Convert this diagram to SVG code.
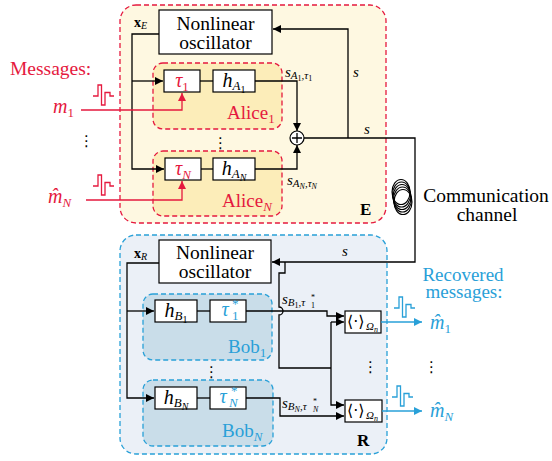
<svg xmlns="http://www.w3.org/2000/svg" width="552" height="461" viewBox="0 0 552 461">
<style>
text{font-family:"Liberation Serif","DejaVu Serif",serif;fill:#000}
.i{font-style:italic}
.b{font-weight:bold}
.red{fill:#e5193e}
.blue{fill:#29a0d8}
.box{fill:#fff;stroke:#000;stroke-width:1.2}
.ln{fill:none;stroke:#000;stroke-width:1.3}
.lr{fill:none;stroke:#e5193e;stroke-width:1.3}
.lb{fill:none;stroke:#29a0d8;stroke-width:1.3}
.dr{stroke:#e5193e;stroke-width:1.3;stroke-dasharray:5 3}
.db{stroke:#29a0d8;stroke-width:1.3;stroke-dasharray:5 3}
.a{marker-end:url(#ah)}
.ar{marker-end:url(#ahr)}
.ab{marker-end:url(#ahb)}
.dots{font-family:"DejaVu Sans",sans-serif;font-size:15px}
.coil{fill:none;stroke:#000;stroke-width:1.1}
.br{font-family:"DejaVu Sans",sans-serif;font-size:16px}
</style>
<defs>
<marker id="ah" viewBox="0 0 10 10" refX="10" refY="5" markerWidth="9" markerHeight="8" markerUnits="userSpaceOnUse" orient="auto"><path d="M0,0 L10,5 L0,10 z" fill="#000"/></marker>
<marker id="ahr" viewBox="0 0 10 10" refX="10" refY="5" markerWidth="9" markerHeight="8" markerUnits="userSpaceOnUse" orient="auto"><path d="M0,0 L10,5 L0,10 z" fill="#e5193e"/></marker>
<marker id="ahb" viewBox="0 0 10 10" refX="10" refY="5" markerWidth="9" markerHeight="8" markerUnits="userSpaceOnUse" orient="auto"><path d="M0,0 L10,5 L0,10 z" fill="#29a0d8"/></marker>
<path id="pulse" d="M0,11 H5 V0 H8.5 V20 H12 V7.5 H17 V11 H21" fill="none" stroke-width="1.3"/>
</defs>

<g id="emitter">
<rect x="120" y="5" width="266" height="218" rx="16" fill="#fef8e1" class="dr"/>
<text x="360" y="215" class="b" font-size="17">E</text>
</g>
<g id="receiver">
<rect x="120" y="235" width="267" height="219" rx="16" fill="#ebf0f7" class="db"/>
<text x="357" y="446" class="b" font-size="17">R</text>
</g>

<g id="alice1">
<rect x="153" y="63" width="129" height="66" rx="10" fill="#fcedb9" class="dr"/>
<text x="227" y="119" class="red" font-size="19">Alice<tspan font-size="13" dy="4">1</tspan></text>
</g>
<g id="aliceN">
<rect x="153" y="151" width="129" height="65" rx="10" fill="#fcedb9" class="dr"/>
<text x="222" y="207" class="red" font-size="19">Alice<tspan class="i" font-size="13" dy="4">N</tspan></text>
</g>
<g id="bob1">
<rect x="143" y="294" width="129" height="66" rx="10" fill="#c9dde9" class="db"/>
<text x="228" y="353" class="blue" font-size="19">Bob<tspan font-size="13" dy="4">1</tspan></text>
</g>
<g id="bobN">
<rect x="143" y="380" width="130" height="66" rx="10" fill="#c9dde9" class="db"/>
<text x="222" y="437" class="blue" font-size="19">Bob<tspan class="i" font-size="13" dy="4">N</tspan></text>
</g>

<g id="oscE">
<rect x="159" y="10" width="113" height="44" class="box"/>
<text x="215.5" y="30" font-size="19.5" text-anchor="middle">Nonlinear</text>
<text x="215.5" y="49" font-size="19.5" text-anchor="middle">oscillator</text>
</g>
<g id="oscR">
<rect x="159" y="240" width="112" height="43" class="box"/>
<text x="215" y="259" font-size="19.5" text-anchor="middle">Nonlinear</text>
<text x="215" y="278" font-size="19.5" text-anchor="middle">oscillator</text>
</g>

<g id="tau1">
<rect x="164" y="70" width="36" height="22" class="box"/>
<text x="182" y="87" class="i red" font-size="20" text-anchor="middle">τ<tspan font-size="13" font-style="normal" dy="4">1</tspan></text>
</g>
<g id="hA1">
<rect x="213" y="70" width="42" height="22" class="box"/>
<text x="234" y="87" class="i" font-size="20" text-anchor="middle">h<tspan font-size="13" dy="3">A</tspan><tspan font-size="10" font-style="normal" dy="3">1</tspan></text>
</g>
<g id="tauN">
<rect x="165" y="158" width="36" height="22" class="box"/>
<text x="183" y="175" class="i red" font-size="20" text-anchor="middle">τ<tspan font-size="13" dy="4">N</tspan></text>
</g>
<g id="hAN">
<rect x="213" y="158" width="42" height="22" class="box"/>
<text x="234" y="175" class="i" font-size="20" text-anchor="middle">h<tspan font-size="13" dy="3">A</tspan><tspan font-size="10" dy="3">N</tspan></text>
</g>
<g id="sum">
<circle cx="297" cy="138" r="7" fill="#fff" stroke="#000" stroke-width="1.2"/>
<path d="M292,138 H302 M297,133 V143" class="ln"/>
</g>

<g id="hB1">
<rect x="155" y="300" width="42" height="22" class="box"/>
<text x="176" y="317" class="i" font-size="20" text-anchor="middle">h<tspan font-size="13" dy="3">B</tspan><tspan font-size="10" font-style="normal" dy="3">1</tspan></text>
</g>
<g id="tau1s">
<rect x="210" y="300" width="36" height="22" class="box"/>
<text x="225" y="316" class="i blue" font-size="20" text-anchor="middle">τ</text>
<text x="232" y="308" class="blue" font-size="13">*</text>
<text x="232" y="320" class="blue" font-size="13">1</text>
</g>
<g id="hBN">
<rect x="155" y="387" width="42" height="22" class="box"/>
<text x="176" y="404" class="i" font-size="20" text-anchor="middle">h<tspan font-size="13" dy="3">B</tspan><tspan font-size="10" dy="3">N</tspan></text>
</g>
<g id="tauNs">
<rect x="210" y="387" width="36" height="22" class="box"/>
<text x="223" y="403" class="i blue" font-size="20" text-anchor="middle">τ</text>
<text x="231" y="395" class="blue" font-size="13">*</text>
<text x="229" y="407" class="i blue" font-size="13">N</text>
</g>
<g id="avg1">
<rect x="345" y="311" width="36" height="22" class="box"/>
<text x="347" y="327" class="br">⟨·⟩</text>
<text x="366" y="330" class="i" font-size="11">Ω<tspan font-size="8" dy="2">n</tspan></text>
</g>
<g id="avgN">
<rect x="345" y="400" width="37" height="22" class="box"/>
<text x="347" y="416" class="br">⟨·⟩</text>
<text x="366" y="419" class="i" font-size="11">Ω<tspan font-size="8" dy="2">n</tspan></text>
</g>

<g id="channel">
<ellipse cx="401" cy="192" rx="9" ry="12.5" class="coil"/>
<ellipse cx="401.5" cy="194.5" rx="9" ry="12.5" class="coil"/>
<ellipse cx="402" cy="197" rx="9" ry="12.5" class="coil"/>
<ellipse cx="402.5" cy="199.5" rx="9" ry="12.5" class="coil"/>
<ellipse cx="403" cy="202" rx="9" ry="12.5" class="coil"/>
<text x="486" y="202" font-size="19.5" text-anchor="middle">Communication</text>
<text x="487" y="221" font-size="19.5" text-anchor="middle">channel</text>
</g>

<g id="messages">
<text x="10" y="75" class="red" font-size="19.5">Messages:</text>
<text x="53" y="113" class="i red" font-size="20">m<tspan font-size="13" font-style="normal" dy="4">1</tspan></text>
<text x="48" y="203" class="i red" font-size="20">m̂<tspan font-size="13" dy="4">N</tspan></text>
<use href="#pulse" x="93" y="85" stroke="#e5193e"/>
<use href="#pulse" x="93" y="175" stroke="#e5193e"/>
<text x="79" y="146" class="dots">⋮</text>
<text x="213" y="148" class="dots">⋮</text>
</g>

<g id="recovered">
<text x="463" y="281" class="blue" font-size="19" text-anchor="middle">Recovered</text>
<text x="464" y="298" class="blue" font-size="19" text-anchor="middle">messages:</text>
<text x="430" y="329" class="i blue" font-size="20">m̂<tspan font-size="13" font-style="normal" dy="4">1</tspan></text>
<text x="430" y="417" class="i blue" font-size="20">m̂<tspan font-size="13" dy="4">N</tspan></text>
<use href="#pulse" x="394" y="297" stroke="#29a0d8"/>
<use href="#pulse" x="392" y="386" stroke="#29a0d8"/>
<text x="363" y="372" class="dots">⋮</text>
<text x="424" y="372" class="dots">⋮</text>
<text x="204" y="377" class="dots">⋮</text>
</g>

<g id="connectors">
<path d="M159,34 H132 V169 H164" class="ln a"/>
<path d="M132,81 H163" class="ln a"/>
<path d="M200,81 H213" class="ln"/>
<path d="M201,169 H213" class="ln"/>
<path d="M255,81 H297 V131" class="ln a"/>
<path d="M255,169 H297 V145" class="ln a"/>
<path d="M304,138 H415 V262 H272" class="ln a"/>
<path d="M348,138 V29 H273" class="ln a"/>
<path d="M81,110 H182 V93" class="lr ar"/>
<path d="M86,200 H182 V181" class="lr ar"/>

<path d="M159,263 H127 V398 H154" class="ln a"/>
<path d="M127,311 H154" class="ln a"/>
<path d="M197,311 H210" class="ln"/>
<path d="M197,398 H210" class="ln"/>
<path d="M246,311 H327 V316 H344" class="ln a"/>
<path d="M285,262 V273 H279 V307 A4,4 0 0 1 279,315 V368 H331" class="ln"/>
<path d="M331,322 H344" class="ln a"/>
<path d="M331,322 V405 H344" class="ln a"/>
<path d="M246,398 H280 V416 H344" class="ln a"/>
<path d="M381,322 H422" class="lb ab"/>
<path d="M382,411 H422" class="lb ab"/>

<text x="353" y="77" class="i" font-size="15">s</text>
<text x="364" y="134" class="i" font-size="15">s</text>
<text x="342" y="256" class="i" font-size="15">s</text>
<text x="285" y="77" class="i" font-size="15">s<tspan font-size="11" dy="2">A</tspan><tspan font-size="8" font-style="normal" dy="2">1</tspan><tspan font-size="11" dy="-2">,τ</tspan><tspan font-size="8" font-style="normal" dy="2">1</tspan></text>
<text x="287" y="185" class="i" font-size="15">s<tspan font-size="11" dy="2">A</tspan><tspan font-size="8" dy="2">N</tspan><tspan font-size="11" dy="-2">,τ</tspan><tspan font-size="8" dy="2">N</tspan></text>
<text x="282" y="304" class="i" font-size="15">s<tspan font-size="11" dy="2">B</tspan><tspan font-size="8" font-style="normal" dy="2">1</tspan><tspan font-size="11" dy="-2">,τ</tspan></text>
<text x="311" y="300" font-size="8">*</text>
<text x="311" y="308" font-size="8">1</text>
<text x="282" y="408" class="i" font-size="15">s<tspan font-size="11" dy="2">B</tspan><tspan font-size="8" dy="2">N</tspan><tspan font-size="11" dy="-2">,τ</tspan></text>
<text x="313" y="404" font-size="8">*</text>
<text x="313" y="412" class="i" font-size="8">N</text>

<text x="134" y="27" class="b" font-size="14">x<tspan class="i" font-weight="normal" font-size="10" dy="2">E</tspan></text>
<text x="134" y="258" class="b" font-size="14">x<tspan class="i" font-weight="normal" font-size="10" dy="2">R</tspan></text>
</g>
</svg>
